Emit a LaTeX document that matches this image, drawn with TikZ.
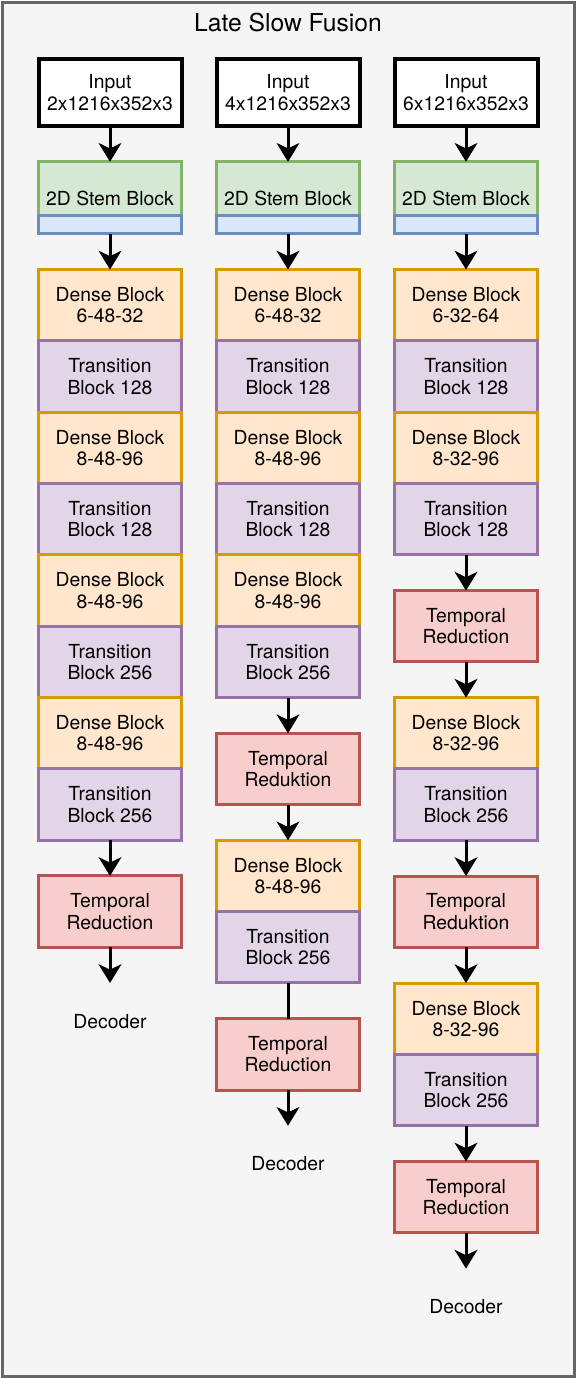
\documentclass[tikz,border=0pt]{standalone}
\usepackage{fontspec}
\setmainfont{TeX Gyre Heros}
\usetikzlibrary{arrows.meta,positioning}
\definecolor{bgfill}{HTML}{F5F5F5}
\definecolor{bgdraw}{HTML}{666666}
\definecolor{densefill}{HTML}{FFE6CC}
\definecolor{densedraw}{HTML}{D79B00}
\definecolor{transfill}{HTML}{E1D5E7}
\definecolor{transdraw}{HTML}{9673A6}
\definecolor{redfill}{HTML}{F8CECC}
\definecolor{reddraw}{HTML}{B85450}
\definecolor{stemfill}{HTML}{D5E8D4}
\definecolor{stemdraw}{HTML}{82B366}
\definecolor{stripfill}{HTML}{DAE8FC}
\definecolor{stripdraw}{HTML}{6C8EBF}
\tikzset{
blockbox/.style={
  rectangle,
  line width=2.25pt,
  outer sep=0pt,
  inner sep=0pt,
  minimum width=107.25pt,
  minimum height=53.5pt,
  align=center,
  font=\fontsize{14.5}{16}\selectfont,
  }
}
\tikzset{
inbox/.style={blockbox, draw=black, fill=white, line width=3pt, minimum height=50.25pt},
stembox/.style={blockbox, draw=stemdraw, fill=stemfill, minimum height=40.5pt, text height=25.4pt, text depth=0pt},
stripbox/.style={blockbox, draw=stripdraw, fill=stripfill, minimum height=13.5pt},
densebox/.style={blockbox, draw=densedraw, fill=densefill},
transbox/.style={blockbox, draw=transdraw, fill=transfill},
redbox/.style={blockbox, draw=reddraw, fill=redfill},
decbox/.style={font=\fontsize{14.5}{16}\selectfont, inner sep=0pt, anchor=center},
}
\tikzset{
myline/.style={
  line width=2.25pt,
  -{Stealth[length=14pt,width=17pt,inset=4pt]}
  }
}

\begin{document}
\begin{tikzpicture}[node distance=26.8pt]
    \useasboundingbox (0,0) rectangle (432pt,-1033.5pt);
    \path [draw=bgdraw, fill=bgfill, line width=2.25pt] (1.5pt,-1.5pt) rectangle (430.5pt,-1032pt);
    \node[font=\fontsize{18.5}{22}\selectfont] (title) at (216pt,-17.25pt) {Late Slow Fusion};

    % left column
    \node[inbox] (inA) at (82.5pt,-69.4pt) {Input\\2x1216x352x3};
    \node[stembox, below=of inA] (stemA) {2D Stem Block};
    \node[stripbox, below=0pt of stemA] (stripA) {};
    \node[densebox, below=of stripA] (dbA1) {Dense Block\\6-48-32};
    \node[transbox, below=0pt of dbA1] (tbA1) {Transition\\Block 128};
    \node[densebox, below=0pt of tbA1] (dbA2) {Dense Block\\8-48-96};
    \node[transbox, below=0pt of dbA2] (tbA2) {Transition\\Block 128};
    \node[densebox, below=0pt of tbA2] (dbA3) {Dense Block\\8-48-96};
    \node[transbox, below=0pt of dbA3] (tbA3) {Transition\\Block 256};
    \node[densebox, below=0pt of tbA3] (dbA4) {Dense Block\\8-48-96};
    \node[transbox, below=0pt of dbA4] (tbA4) {Transition\\Block 256};
    \node[redbox, below=of tbA4] (trA1) {Temporal\\Reduction};
    \coordinate[below=of trA1] (endA);
    \node[decbox, below=28.7pt of endA, anchor=center] (decA) {Decoder};

    % middle column
    \node[inbox] (inB) at (216pt,-69.4pt) {Input\\4x1216x352x3};
    \node[stembox, below=of inB] (stemB) {2D Stem Block};
    \node[stripbox, below=0pt of stemB] (stripB) {};
    \node[densebox, below=of stripB] (dbB1) {Dense Block\\6-48-32};
    \node[transbox, below=0pt of dbB1] (tbB1) {Transition\\Block 128};
    \node[densebox, below=0pt of tbB1] (dbB2) {Dense Block\\8-48-96};
    \node[transbox, below=0pt of dbB2] (tbB2) {Transition\\Block 128};
    \node[densebox, below=0pt of tbB2] (dbB3) {Dense Block\\8-48-96};
    \node[transbox, below=0pt of dbB3] (tbB3) {Transition\\Block 256};
    \node[redbox, below=of tbB3] (trB1) {Temporal\\Reduktion};
    \node[densebox, below=of trB1] (dbB4) {Dense Block\\8-48-96};
    \node[transbox, below=0pt of dbB4] (tbB4) {Transition\\Block 256};
    \node[redbox, below=of tbB4] (trB2) {Temporal\\Reduction};
    \coordinate[below=of trB2] (endB);
    \node[decbox, below=28.7pt of endB, anchor=center] (decB) {Decoder};

    % right column
    \node[inbox] (inC) at (349.5pt,-69.4pt) {Input\\6x1216x352x3};
    \node[stembox, below=of inC] (stemC) {2D Stem Block};
    \node[stripbox, below=0pt of stemC] (stripC) {};
    \node[densebox, below=of stripC] (dbC1) {Dense Block\\6-32-64};
    \node[transbox, below=0pt of dbC1] (tbC1) {Transition\\Block 128};
    \node[densebox, below=0pt of tbC1] (dbC2) {Dense Block\\8-32-96};
    \node[transbox, below=0pt of dbC2] (tbC2) {Transition\\Block 128};
    \node[redbox, below=of tbC2] (trC1) {Temporal\\Reduction};
    \node[densebox, below=of trC1] (dbC3) {Dense Block\\8-32-96};
    \node[transbox, below=0pt of dbC3] (tbC3) {Transition\\Block 256};
    \node[redbox, below=of tbC3] (trC2) {Temporal\\Reduktion};
    \node[densebox, below=of trC2] (dbC4) {Dense Block\\8-32-96};
    \node[transbox, below=0pt of dbC4] (tbC4) {Transition\\Block 256};
    \node[redbox, below=of tbC4] (trC3) {Temporal\\Reduction};
    \coordinate[below=of trC3] (endC);
    \node[decbox, below=28.7pt of endC, anchor=center] (decC) {Decoder};

    % left edges
    \draw[myline] (inA) -- (stemA);
    \draw[myline] (stripA) -- (dbA1);
    \draw[myline] (tbA4) -- (trA1);
    \draw[myline] (trA1) -- (endA);

    % middle edges
    \draw[myline] (inB) -- (stemB);
    \draw[myline] (stripB) -- (dbB1);
    \draw[myline] (tbB3) -- (trB1);
    \draw[myline] (trB1) -- (dbB4);
    \draw[line width=2.25pt] (tbB4) -- (trB2);
    \draw[myline] (trB2) -- (endB);

    % right edges
    \draw[myline] (inC) -- (stemC);
    \draw[myline] (stripC) -- (dbC1);
    \draw[myline] (tbC2) -- (trC1);
    \draw[myline] (trC1) -- (dbC3);
    \draw[myline] (tbC3) -- (trC2);
    \draw[myline] (trC2) -- (dbC4);
    \draw[myline] (tbC4) -- (trC3);
    \draw[myline] (trC3) -- (endC);
\end{tikzpicture}
\end{document}
